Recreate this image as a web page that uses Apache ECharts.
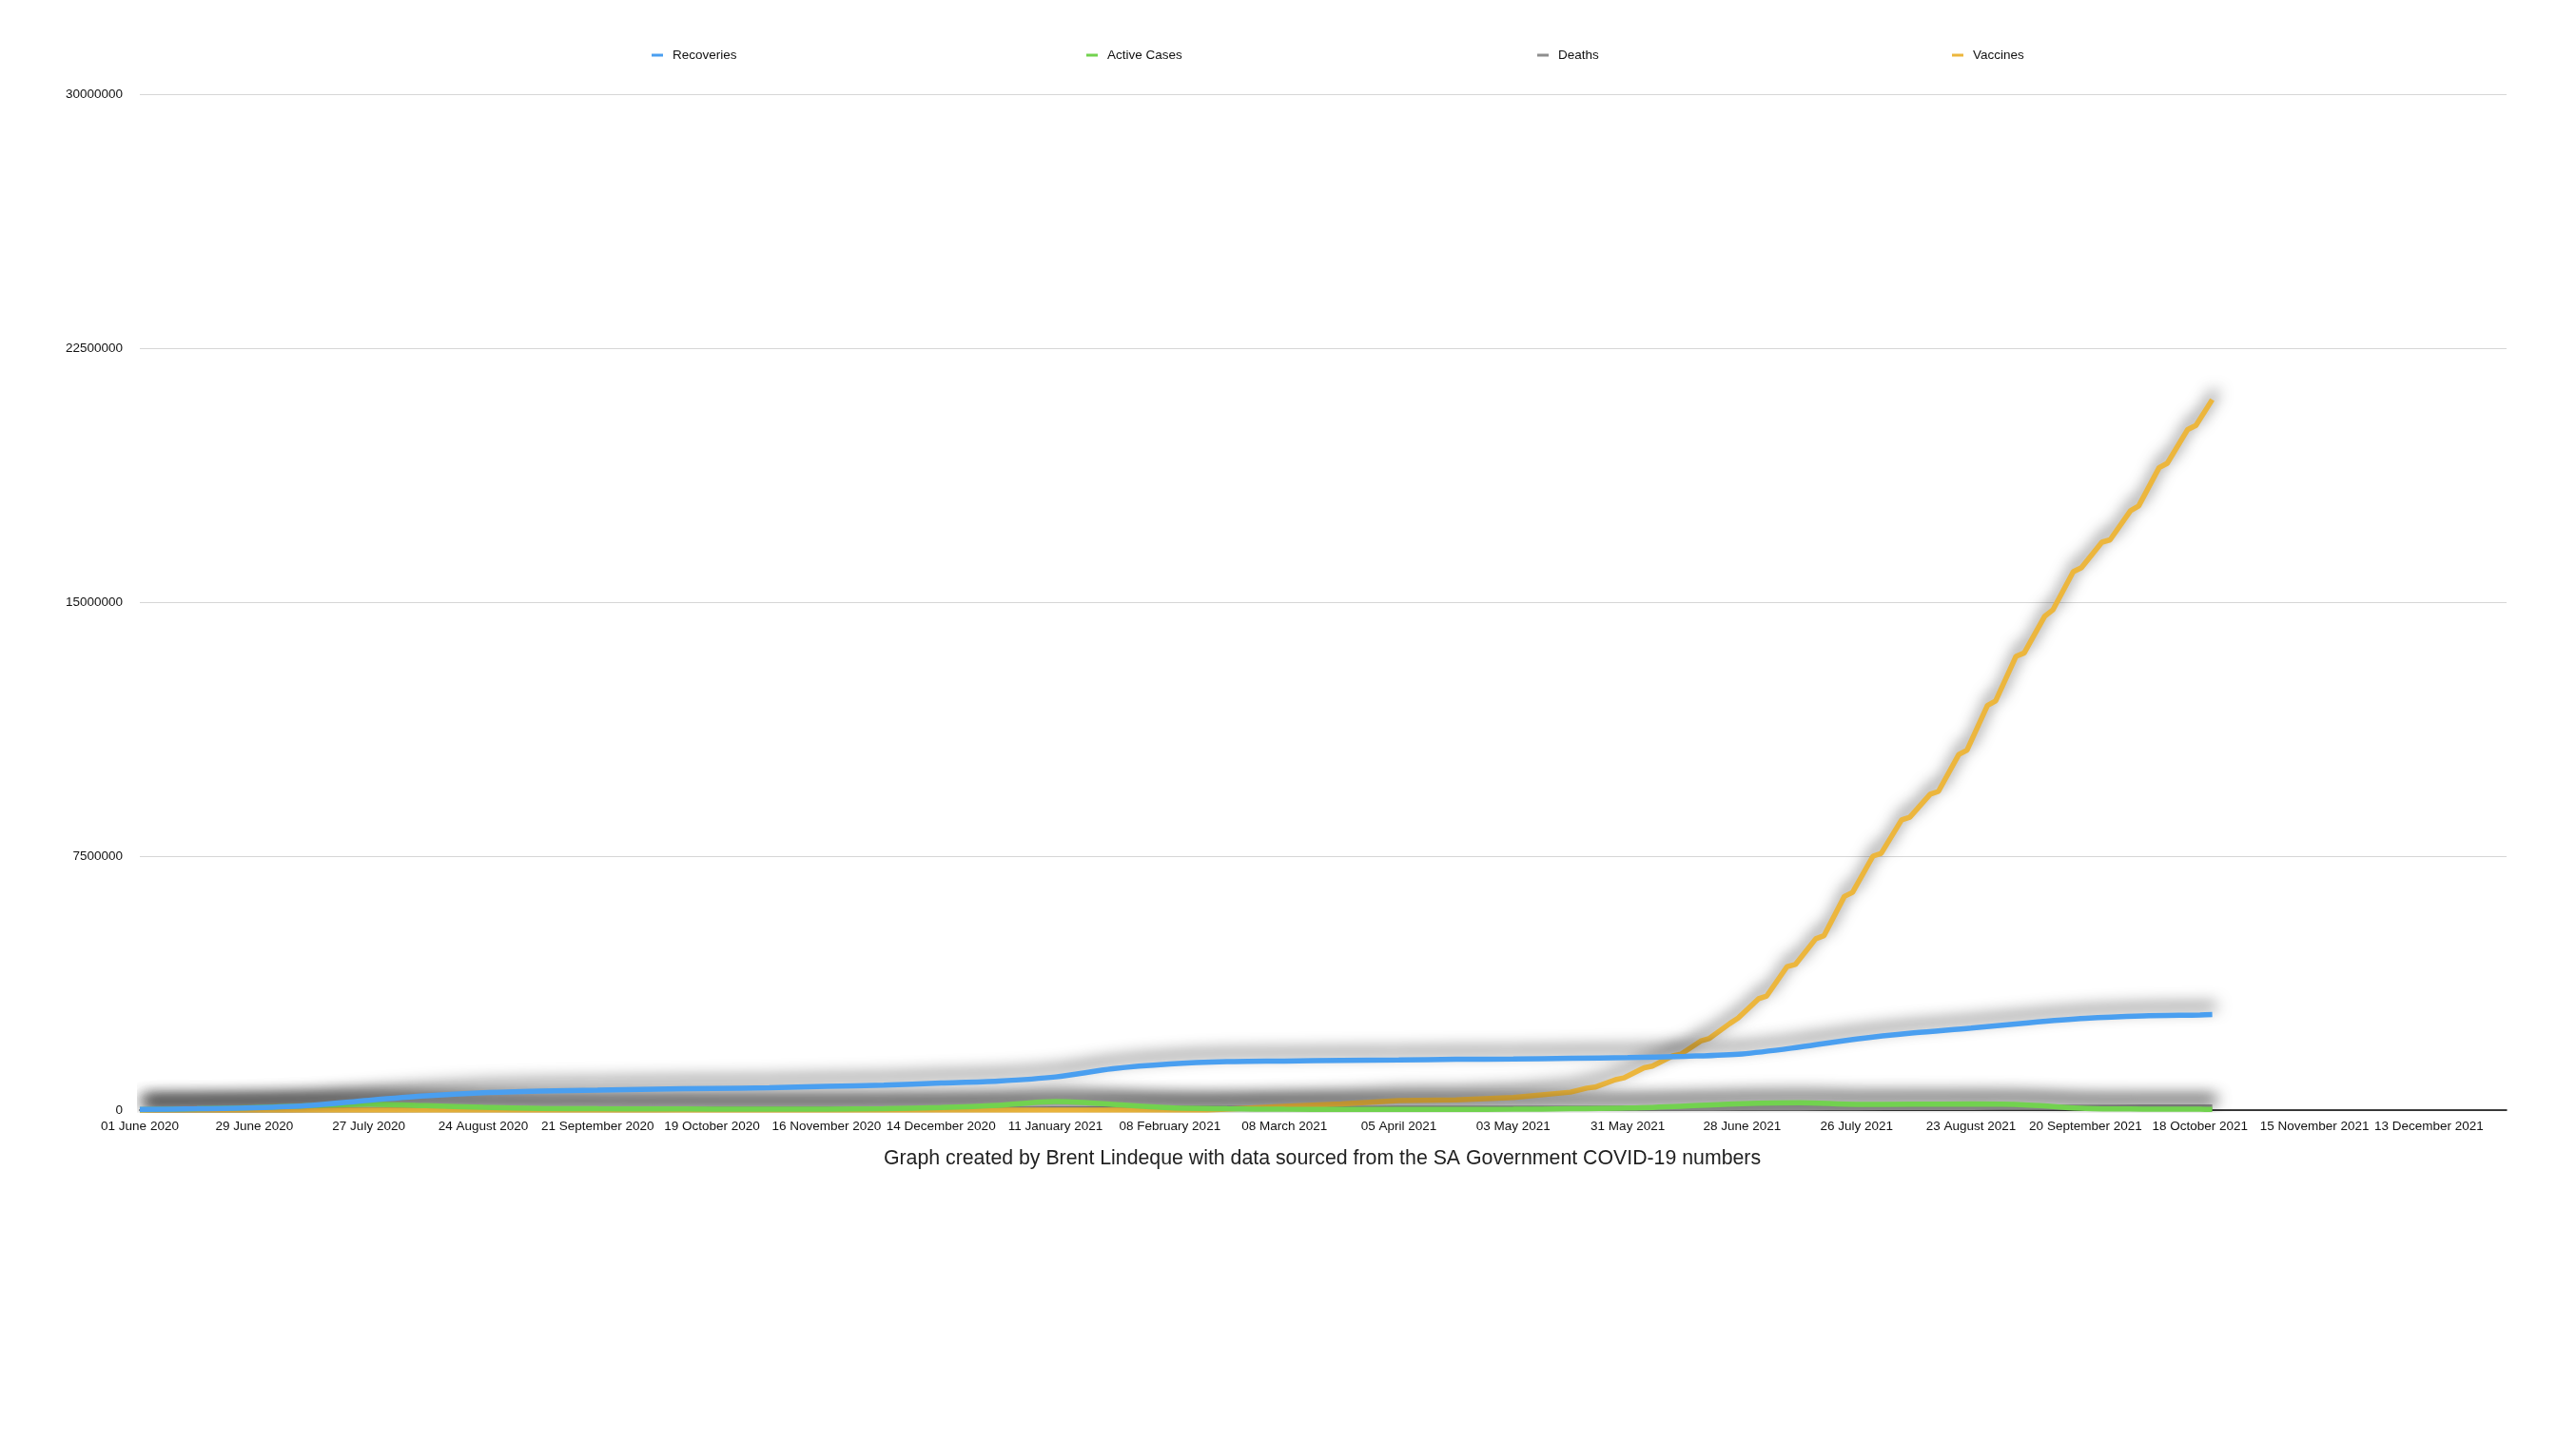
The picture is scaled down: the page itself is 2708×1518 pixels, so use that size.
<!DOCTYPE html>
<html>
<head>
<meta charset="utf-8">
<script src="https://cdn.jsdelivr.net/npm/echarts@6/dist/echarts.min.js"></script>
<style>
html,body{margin:0;padding:0;background:#fff;}
#chart{width:2708px;height:1518px;}
</style>
</head>
<body>
<div id="chart"></div>
<script>
// ---- Data ----
const seriesNames = ['Recoveries', 'Active Cases', 'Deaths', 'Vaccines'];
const axisStart = '2020-06-01';
const axisEnd = '2022-01-01';

const periodDates = ['2020-06-01','2020-06-15','2020-06-29','2020-07-13','2020-07-27','2020-08-10','2020-08-24','2020-09-07','2020-09-21','2020-10-05','2020-10-19','2020-11-02','2020-11-16','2020-11-30','2020-12-14','2020-12-28','2021-01-11','2021-01-25','2021-02-08','2021-02-22','2021-03-08','2021-03-22','2021-04-05','2021-04-19','2021-05-03','2021-05-17','2021-05-31','2021-06-14','2021-06-28','2021-07-12','2021-07-26','2021-08-09','2021-08-23','2021-09-06','2021-09-20','2021-10-04','2021-10-18','2021-10-21'];

const recoveries = [20000,40000,70000,140000,290000,420000,510000,560000,590000,620000,640000,660000,700000,740000,800000,860000,980000,1220000,1360000,1430000,1450000,1470000,1480000,1500000,1510000,1530000,1550000,1590000,1660000,1860000,2100000,2280000,2420000,2580000,2710000,2780000,2810000,2820000];

const activeCases = [17000,40000,75000,135000,175000,130000,85000,50000,40000,35000,30000,28000,30000,40000,75000,140000,250000,170000,70000,40000,25000,20000,20000,22000,25000,40000,60000,120000,190000,220000,170000,175000,180000,150000,50000,30000,25000,22000];

const deaths = [700,1400,2700,4300,7000,11000,13500,15400,16400,17200,18500,19600,20400,21500,23000,26700,34000,41000,46000,48500,50500,51900,53000,53900,54700,55500,56500,58300,61000,66000,71500,76000,80500,84500,86500,88000,89000,89300];

const vaccineDates = ['2020-06-01','2021-02-17','2021-03-08','2021-03-22','2021-04-05','2021-04-19','2021-05-03','2021-05-17','2021-05-21','2021-05-23','2021-05-28','2021-05-30','2021-06-04','2021-06-06','2021-06-11','2021-06-13','2021-06-18','2021-06-20','2021-06-25','2021-06-27','2021-07-02','2021-07-04','2021-07-09','2021-07-11','2021-07-16','2021-07-18','2021-07-23','2021-07-25','2021-07-30','2021-08-01','2021-08-06','2021-08-08','2021-08-13','2021-08-15','2021-08-20','2021-08-22','2021-08-27','2021-08-29','2021-09-03','2021-09-05','2021-09-10','2021-09-12','2021-09-17','2021-09-19','2021-09-24','2021-09-26','2021-10-01','2021-10-03','2021-10-08','2021-10-10','2021-10-15','2021-10-17','2021-10-21'];

const vaccines = [0,0,110000,180000,280000,300000,370000,530000,650000,680000,900000,950000,1250000,1300000,1600000,1650000,2050000,2120000,2560000,2720000,3290000,3370000,4240000,4300000,5060000,5150000,6310000,6430000,7500000,7580000,8570000,8650000,9330000,9410000,10500000,10630000,11950000,12080000,13400000,13500000,14580000,14770000,15900000,16020000,16770000,16840000,17700000,17840000,18970000,19100000,20100000,20220000,20980000];

const yTicks = [0, 7500000, 15000000, 22500000, 30000000];
const caption = 'Graph created by Brent Lindeque with data sourced from the SA Government COVID-19 numbers';

const colors = ['#4a9ff0', '#72d24f', '#8e8e8e', '#ecb63d'];
const monthNames = ['January','February','March','April','May','June','July','August','September','October','November','December'];

// ---- daily category axis ----
function iso(d){
  const m = d.getUTCMonth()+1, day = d.getUTCDate();
  return d.getUTCFullYear()+'-'+(m<10?'0':'')+m+'-'+(day<10?'0':'')+day;
}
const categories = [];
{
  const s = new Date(axisStart+'T00:00:00Z'), e = new Date(axisEnd+'T00:00:00Z');
  for (let t = s.getTime(); t <= e.getTime(); t += 86400000) categories.push(iso(new Date(t)));
}
function fmtDate(v){
  const p = v.split('-');
  return p[2]+' '+monthNames[parseInt(p[1],10)-1]+' '+p[0];
}

const FONT = '"Liberation Sans", Arial, Helvetica, sans-serif';
const shadow = {shadowColor:'rgba(0,0,0,0.72)', shadowBlur:16, shadowOffsetX:4, shadowOffsetY:-9};

function mk(name, dates, vals, color, smooth){
  return {
    name, type:'line', showSymbol:false, smooth: smooth,
    data: dates.map((d,i)=>[d, vals[i]]),
    itemStyle:{color},
    lineStyle: Object.assign({width:5.5, color}, shadow)
  };
}

const legendLefts = [680, 1137, 1611, 2047];

const chart = echarts.init(document.getElementById('chart'), null, {renderer:'canvas'});
chart.setOption({
  animation:false,
  backgroundColor:'#fff',
  textStyle:{fontFamily:FONT},
  legend: seriesNames.map((n,i)=>({
    data:[n], left: legendLefts[i], top: 46, icon:'rect', itemWidth:12, itemHeight:3,
    textStyle:{fontSize:13.5, color:'#111', fontFamily:FONT, padding:[0,0,0,5]}
  })),
  grid:{left:147, right:73, top:99, bottom:351, containLabel:false},
  xAxis:{
    type:'category', data: categories, boundaryGap:false,
    axisLine:{show:true, lineStyle:{color:'#000', width:1.5}},
    axisTick:{show:false},
    splitLine:{show:false},
    axisLabel:{interval:27, formatter: fmtDate, fontSize:13.5, color:'#111', margin:10, fontFamily:FONT, hideOverlap:false}
  },
  yAxis:{
    type:'value', min:yTicks[0], max:yTicks[yTicks.length-1], interval:yTicks[1]-yTicks[0],
    axisLine:{show:false}, axisTick:{show:false},
    splitLine:{show:true, lineStyle:{color:'#d6d6d6', width:1}},
    axisLabel:{formatter:v=>String(v), fontSize:13.5, color:'#111', margin:18, fontFamily:FONT}
  },
  series:[
    mk(seriesNames[2], periodDates, deaths, colors[2], 0.3),
    mk(seriesNames[3], vaccineDates, vaccines, colors[3], false),
    mk(seriesNames[1], periodDates, activeCases, colors[1], 0.3),
    mk(seriesNames[0], periodDates, recoveries, colors[0], 0.3)
  ],
  graphic:[{
    type:'text', x:1390, y:1218,
    style:{text:caption, fontSize:21.3, fill:'#222', fontFamily:FONT, align:'center', verticalAlign:'middle'}
  }]
});
</script>
</body>
</html>
